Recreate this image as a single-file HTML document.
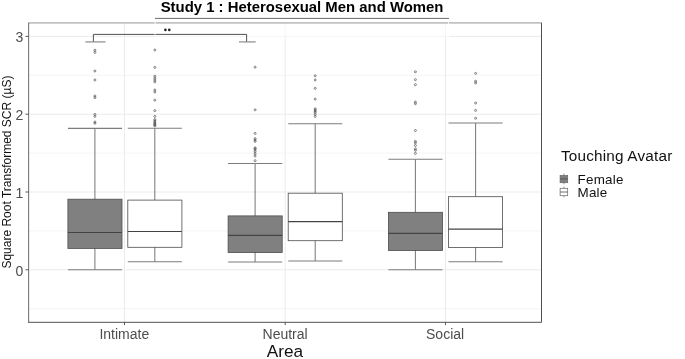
<!DOCTYPE html><html><head><meta charset="utf-8"><style>html,body{margin:0;padding:0;background:#fff}svg{display:block;will-change:transform}text{font-family:"Liberation Sans",sans-serif}</style></head><body>
<svg width="685" height="359" viewBox="0 0 685 359">
<rect width="685" height="359" fill="#fff"/>
<line x1="28.5" x2="541.5" y1="308.7" y2="308.7" stroke="#f2f2f2" stroke-width="0.8"/>
<line x1="28.5" x2="541.5" y1="230.9" y2="230.9" stroke="#f2f2f2" stroke-width="0.8"/>
<line x1="28.5" x2="541.5" y1="153.1" y2="153.1" stroke="#f2f2f2" stroke-width="0.8"/>
<line x1="28.5" x2="541.5" y1="75.3" y2="75.3" stroke="#f2f2f2" stroke-width="0.8"/>
<line x1="28.5" x2="541.5" y1="269.8" y2="269.8" stroke="#ebebeb" stroke-width="1"/>
<line x1="28.5" x2="541.5" y1="192.0" y2="192.0" stroke="#ebebeb" stroke-width="1"/>
<line x1="28.5" x2="541.5" y1="114.2" y2="114.2" stroke="#ebebeb" stroke-width="1"/>
<line x1="28.5" x2="541.5" y1="36.4" y2="36.4" stroke="#ebebeb" stroke-width="1"/>
<line x1="124.5" x2="124.5" y1="23.2" y2="322.3" stroke="#ebebeb" stroke-width="1"/>
<line x1="285.2" x2="285.2" y1="23.2" y2="322.3" stroke="#ebebeb" stroke-width="1"/>
<line x1="445.5" x2="445.5" y1="23.2" y2="322.3" stroke="#ebebeb" stroke-width="1"/>
<rect x="155.1" y="24.2" width="293.5" height="13.1" fill="#fff" fill-opacity="0.5"/>
<line x1="67.9" x2="122.0" y1="128.4" y2="128.4" stroke="#7c7c7c" stroke-width="1.05"/>
<line x1="67.9" x2="122.0" y1="269.75" y2="269.75" stroke="#7c7c7c" stroke-width="1.05"/>
<line x1="94.9" x2="94.9" y1="128.4" y2="269.75" stroke="#7c7c7c" stroke-width="1.05"/>
<rect x="67.9" y="199.2" width="54.1" height="49.2" fill="#808080" stroke="#4d4d4d" stroke-width="0.8"/>
<line x1="67.9" x2="122.0" y1="232.5" y2="232.5" stroke="#444" stroke-width="1.2"/>
<circle cx="94.9" cy="50.2" r="1.0" fill="none" stroke="#505050" stroke-width="0.7"/>
<circle cx="94.9" cy="52.4" r="1.0" fill="none" stroke="#505050" stroke-width="0.7"/>
<circle cx="94.9" cy="71.0" r="1.0" fill="none" stroke="#505050" stroke-width="0.7"/>
<circle cx="94.9" cy="80.0" r="1.0" fill="none" stroke="#505050" stroke-width="0.7"/>
<circle cx="94.9" cy="96.0" r="1.0" fill="none" stroke="#505050" stroke-width="0.7"/>
<circle cx="94.9" cy="97.6" r="1.0" fill="none" stroke="#505050" stroke-width="0.7"/>
<circle cx="94.9" cy="114.4" r="1.0" fill="none" stroke="#505050" stroke-width="0.7"/>
<circle cx="94.9" cy="116.4" r="1.0" fill="none" stroke="#505050" stroke-width="0.7"/>
<circle cx="94.9" cy="122.0" r="1.0" fill="none" stroke="#505050" stroke-width="0.7"/>
<circle cx="94.9" cy="123.3" r="1.0" fill="none" stroke="#505050" stroke-width="0.7"/>
<line x1="127.8" x2="181.9" y1="128.2" y2="128.2" stroke="#7c7c7c" stroke-width="1.05"/>
<line x1="127.8" x2="181.9" y1="261.8" y2="261.8" stroke="#7c7c7c" stroke-width="1.05"/>
<line x1="154.8" x2="154.8" y1="128.2" y2="261.8" stroke="#7c7c7c" stroke-width="1.05"/>
<rect x="127.8" y="200.1" width="54.1" height="47.2" fill="#ffffff" stroke="#4d4d4d" stroke-width="0.8"/>
<line x1="127.8" x2="181.9" y1="231.5" y2="231.5" stroke="#444" stroke-width="1.2"/>
<circle cx="154.8" cy="50.0" r="1.0" fill="none" stroke="#505050" stroke-width="0.7"/>
<circle cx="154.8" cy="67.4" r="1.0" fill="none" stroke="#505050" stroke-width="0.7"/>
<circle cx="154.8" cy="76.2" r="1.0" fill="none" stroke="#505050" stroke-width="0.7"/>
<circle cx="154.8" cy="78.2" r="1.0" fill="none" stroke="#505050" stroke-width="0.7"/>
<circle cx="154.8" cy="80.0" r="1.0" fill="none" stroke="#505050" stroke-width="0.7"/>
<circle cx="154.8" cy="81.8" r="1.0" fill="none" stroke="#505050" stroke-width="0.7"/>
<circle cx="154.8" cy="90.0" r="1.0" fill="none" stroke="#505050" stroke-width="0.7"/>
<circle cx="154.8" cy="92.0" r="1.0" fill="none" stroke="#505050" stroke-width="0.7"/>
<circle cx="154.8" cy="100.2" r="1.0" fill="none" stroke="#505050" stroke-width="0.7"/>
<circle cx="154.8" cy="110.6" r="1.0" fill="none" stroke="#505050" stroke-width="0.7"/>
<circle cx="154.8" cy="116.4" r="1.0" fill="none" stroke="#505050" stroke-width="0.7"/>
<circle cx="154.8" cy="119.6" r="1.0" fill="none" stroke="#505050" stroke-width="0.7"/>
<circle cx="154.8" cy="120.8" r="1.0" fill="none" stroke="#505050" stroke-width="0.7"/>
<circle cx="154.8" cy="122.0" r="1.0" fill="none" stroke="#505050" stroke-width="0.7"/>
<circle cx="154.8" cy="123.2" r="1.0" fill="none" stroke="#505050" stroke-width="0.7"/>
<circle cx="154.8" cy="124.2" r="1.0" fill="none" stroke="#505050" stroke-width="0.7"/>
<circle cx="154.8" cy="125.0" r="1.0" fill="none" stroke="#505050" stroke-width="0.7"/>
<circle cx="154.8" cy="125.8" r="1.0" fill="none" stroke="#505050" stroke-width="0.7"/>
<line x1="228.1" x2="282.2" y1="163.5" y2="163.5" stroke="#7c7c7c" stroke-width="1.05"/>
<line x1="228.1" x2="282.2" y1="262.0" y2="262.0" stroke="#7c7c7c" stroke-width="1.05"/>
<line x1="255.1" x2="255.1" y1="163.5" y2="262.0" stroke="#7c7c7c" stroke-width="1.05"/>
<rect x="228.1" y="215.9" width="54.1" height="36.7" fill="#808080" stroke="#4d4d4d" stroke-width="0.8"/>
<line x1="228.1" x2="282.2" y1="235.3" y2="235.3" stroke="#444" stroke-width="1.2"/>
<circle cx="255.1" cy="67.2" r="1.0" fill="none" stroke="#505050" stroke-width="0.7"/>
<circle cx="255.1" cy="109.8" r="1.0" fill="none" stroke="#505050" stroke-width="0.7"/>
<circle cx="255.1" cy="133.4" r="1.0" fill="none" stroke="#505050" stroke-width="0.7"/>
<circle cx="255.1" cy="138.6" r="1.0" fill="none" stroke="#505050" stroke-width="0.7"/>
<circle cx="255.1" cy="140.0" r="1.0" fill="none" stroke="#505050" stroke-width="0.7"/>
<circle cx="255.1" cy="141.4" r="1.0" fill="none" stroke="#505050" stroke-width="0.7"/>
<circle cx="255.1" cy="147.8" r="1.0" fill="none" stroke="#505050" stroke-width="0.7"/>
<circle cx="255.1" cy="148.8" r="1.0" fill="none" stroke="#505050" stroke-width="0.7"/>
<circle cx="255.1" cy="149.8" r="1.0" fill="none" stroke="#505050" stroke-width="0.7"/>
<circle cx="255.1" cy="151.7" r="1.0" fill="none" stroke="#505050" stroke-width="0.7"/>
<circle cx="255.1" cy="153.8" r="1.0" fill="none" stroke="#505050" stroke-width="0.7"/>
<circle cx="255.1" cy="156.0" r="1.0" fill="none" stroke="#505050" stroke-width="0.7"/>
<circle cx="255.1" cy="160.7" r="1.0" fill="none" stroke="#505050" stroke-width="0.7"/>
<line x1="288.2" x2="342.3" y1="123.8" y2="123.8" stroke="#7c7c7c" stroke-width="1.05"/>
<line x1="288.2" x2="342.3" y1="260.9" y2="260.9" stroke="#7c7c7c" stroke-width="1.05"/>
<line x1="315.2" x2="315.2" y1="123.8" y2="260.9" stroke="#7c7c7c" stroke-width="1.05"/>
<rect x="288.2" y="193.2" width="54.1" height="47.5" fill="#ffffff" stroke="#4d4d4d" stroke-width="0.8"/>
<line x1="288.2" x2="342.3" y1="221.6" y2="221.6" stroke="#444" stroke-width="1.2"/>
<circle cx="315.2" cy="75.8" r="1.0" fill="none" stroke="#505050" stroke-width="0.7"/>
<circle cx="315.2" cy="80.0" r="1.0" fill="none" stroke="#505050" stroke-width="0.7"/>
<circle cx="315.2" cy="88.4" r="1.0" fill="none" stroke="#505050" stroke-width="0.7"/>
<circle cx="315.2" cy="99.1" r="1.0" fill="none" stroke="#505050" stroke-width="0.7"/>
<circle cx="315.2" cy="108.8" r="1.0" fill="none" stroke="#505050" stroke-width="0.7"/>
<circle cx="315.2" cy="110.0" r="1.0" fill="none" stroke="#505050" stroke-width="0.7"/>
<circle cx="315.2" cy="111.2" r="1.0" fill="none" stroke="#505050" stroke-width="0.7"/>
<circle cx="315.2" cy="112.4" r="1.0" fill="none" stroke="#505050" stroke-width="0.7"/>
<circle cx="315.2" cy="114.4" r="1.0" fill="none" stroke="#505050" stroke-width="0.7"/>
<circle cx="315.2" cy="116.4" r="1.0" fill="none" stroke="#505050" stroke-width="0.7"/>
<line x1="388.4" x2="442.5" y1="159.2" y2="159.2" stroke="#7c7c7c" stroke-width="1.05"/>
<line x1="388.4" x2="442.5" y1="269.75" y2="269.75" stroke="#7c7c7c" stroke-width="1.05"/>
<line x1="415.4" x2="415.4" y1="159.2" y2="269.75" stroke="#7c7c7c" stroke-width="1.05"/>
<rect x="388.4" y="212.3" width="54.1" height="38.2" fill="#808080" stroke="#4d4d4d" stroke-width="0.8"/>
<line x1="388.4" x2="442.5" y1="233.4" y2="233.4" stroke="#444" stroke-width="1.2"/>
<circle cx="415.4" cy="71.8" r="1.0" fill="none" stroke="#505050" stroke-width="0.7"/>
<circle cx="415.4" cy="79.7" r="1.0" fill="none" stroke="#505050" stroke-width="0.7"/>
<circle cx="415.4" cy="84.7" r="1.0" fill="none" stroke="#505050" stroke-width="0.7"/>
<circle cx="415.4" cy="102.0" r="1.0" fill="none" stroke="#505050" stroke-width="0.7"/>
<circle cx="415.4" cy="103.7" r="1.0" fill="none" stroke="#505050" stroke-width="0.7"/>
<circle cx="415.4" cy="130.5" r="1.0" fill="none" stroke="#505050" stroke-width="0.7"/>
<circle cx="415.4" cy="141.4" r="1.0" fill="none" stroke="#505050" stroke-width="0.7"/>
<circle cx="415.4" cy="142.8" r="1.0" fill="none" stroke="#505050" stroke-width="0.7"/>
<circle cx="415.4" cy="145.5" r="1.0" fill="none" stroke="#505050" stroke-width="0.7"/>
<circle cx="415.4" cy="148.9" r="1.0" fill="none" stroke="#505050" stroke-width="0.7"/>
<circle cx="415.4" cy="150.3" r="1.0" fill="none" stroke="#505050" stroke-width="0.7"/>
<circle cx="415.4" cy="153.4" r="1.0" fill="none" stroke="#505050" stroke-width="0.7"/>
<line x1="448.5" x2="502.6" y1="122.9" y2="122.9" stroke="#7c7c7c" stroke-width="1.05"/>
<line x1="448.5" x2="502.6" y1="261.8" y2="261.8" stroke="#7c7c7c" stroke-width="1.05"/>
<line x1="475.6" x2="475.6" y1="122.9" y2="261.8" stroke="#7c7c7c" stroke-width="1.05"/>
<rect x="448.5" y="196.7" width="54.1" height="50.7" fill="#ffffff" stroke="#4d4d4d" stroke-width="0.8"/>
<line x1="448.5" x2="502.6" y1="229.1" y2="229.1" stroke="#444" stroke-width="1.2"/>
<circle cx="475.6" cy="73.4" r="1.0" fill="none" stroke="#505050" stroke-width="0.7"/>
<circle cx="475.6" cy="81.2" r="1.0" fill="none" stroke="#505050" stroke-width="0.7"/>
<circle cx="475.6" cy="83.0" r="1.0" fill="none" stroke="#505050" stroke-width="0.7"/>
<circle cx="475.6" cy="103.0" r="1.0" fill="none" stroke="#505050" stroke-width="0.7"/>
<circle cx="475.6" cy="110.4" r="1.0" fill="none" stroke="#505050" stroke-width="0.7"/>
<circle cx="475.6" cy="118.3" r="1.0" fill="none" stroke="#505050" stroke-width="0.7"/>
<path d="M93.4 42V34.4H246.6V42" fill="none" stroke="#505050" stroke-width="1"/>
<line x1="85.4" x2="105.5" y1="41.9" y2="41.9" stroke="#949494" stroke-width="1.3"/>
<line x1="239" x2="255.7" y1="41.9" y2="41.9" stroke="#949494" stroke-width="1.3"/>
<circle cx="165.4" cy="29.9" r="1.3" fill="#222"/><circle cx="169.3" cy="29.9" r="1.3" fill="#222"/>
<line x1="28.5" x2="541.5" y1="22.9" y2="22.9" stroke="#c2c2c2" stroke-width="1.8"/>
<path d="M28.65 22.7V322.3" fill="none" stroke="#6a6a6a" stroke-width="1.0"/>
<path d="M28.1 322.3H541.5V22.7" fill="none" stroke="#505050" stroke-width="1.0"/>
<line x1="25.5" x2="28.5" y1="269.8" y2="269.8" stroke="#444" stroke-width="0.9"/>
<line x1="25.5" x2="28.5" y1="192.0" y2="192.0" stroke="#444" stroke-width="0.9"/>
<line x1="25.5" x2="28.5" y1="114.2" y2="114.2" stroke="#444" stroke-width="0.9"/>
<line x1="25.5" x2="28.5" y1="36.4" y2="36.4" stroke="#444" stroke-width="0.9"/>
<line x1="124.5" x2="124.5" y1="322.3" y2="325.1" stroke="#444" stroke-width="0.9"/>
<line x1="285.2" x2="285.2" y1="322.3" y2="325.1" stroke="#444" stroke-width="0.9"/>
<line x1="445.5" x2="445.5" y1="322.3" y2="325.1" stroke="#444" stroke-width="0.9"/>
<text x="23.2" y="275.8" font-size="14" fill="#4d4d4d" text-anchor="end">0</text>
<text x="23.2" y="198.0" font-size="14" fill="#4d4d4d" text-anchor="end">1</text>
<text x="23.2" y="120.2" font-size="14" fill="#4d4d4d" text-anchor="end">2</text>
<text x="23.2" y="42.4" font-size="14" fill="#4d4d4d" text-anchor="end">3</text>
<text x="124.3" y="338.8" font-size="14" fill="#4d4d4d" text-anchor="middle">Intimate</text>
<text x="285.1" y="338.8" font-size="14" fill="#4d4d4d" text-anchor="middle">Neutral</text>
<text x="445.1" y="338.8" font-size="14" fill="#4d4d4d" text-anchor="middle">Social</text>
<text x="285" y="357.4" font-size="17.2" fill="#111" text-anchor="middle">Area</text>
<text transform="translate(10.6,172.1) rotate(-90)" font-size="12" fill="#111" text-anchor="middle">Square Root Transformed SCR (µS)</text>
<text x="160.7" y="11.6" font-size="14.9" font-weight="bold" fill="#000">Study 1 : Heterosexual Men and Women</text>
<line x1="155" x2="449" y1="18.4" y2="18.4" stroke="#5a5a5a" stroke-width="0.9"/>
<line x1="155.1" x2="155.1" y1="19.5" y2="37.3" stroke="#fff" stroke-width="0.8"/><line x1="448.6" x2="448.6" y1="19.5" y2="37.3" stroke="#fff" stroke-width="0.8"/>
<text x="560.9" y="160.5" font-size="15.3" letter-spacing="0.2" fill="#111">Touching Avatar</text>
<text x="577.6" y="184" font-size="13.4" letter-spacing="0.22" fill="#111">Female</text>
<text x="577.6" y="196.8" font-size="13.4" letter-spacing="0.2" fill="#111">Male</text>
<line x1="563.9" x2="563.9" y1="173.5" y2="184.3" stroke="#777" stroke-width="0.8"/><rect x="560.1" y="175.5" width="7.6" height="7.2" fill="#808080" stroke="#666" stroke-width="0.7"/><line x1="560.1" x2="567.7" y1="178.9" y2="178.9" stroke="#4d4d4d" stroke-width="0.8"/>
<line x1="563.9" x2="563.9" y1="186.6" y2="197.4" stroke="#777" stroke-width="0.8"/><rect x="560.1" y="188.3" width="7.6" height="7.4" fill="#fff" stroke="#666" stroke-width="0.7"/><line x1="560.1" x2="567.7" y1="192" y2="192" stroke="#4d4d4d" stroke-width="0.8"/>
</svg></body></html>
